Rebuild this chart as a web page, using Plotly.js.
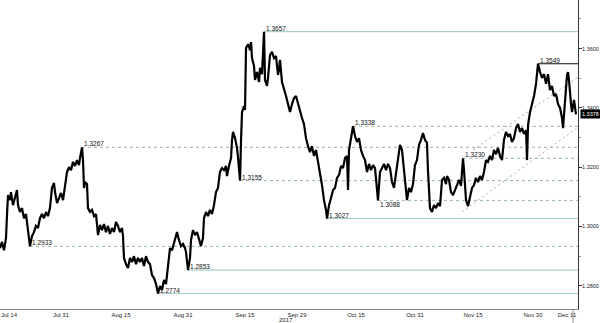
<!DOCTYPE html>
<html>
<head>
<meta charset="utf-8">
<script src="https://cdn.plot.ly/plotly-3.0.1.min.js"></script>
<style>
  html, body { margin: 0; padding: 0; background: #fff; }
  #chart { width: 600px; height: 323px; }
</style>
</head>
<body>
<div id="chart"></div>
<script>
// ---- data (x = trading-day index, 0 = Jul 14 2017) ----
const tradeDay = [
  -1.71,-1.33,-0.95,-0.57,-0.38,-0.19,0.19,0.38,0.76,1.14,
  1.52,1.71,2.09,2.47,2.85,3.23,3.61,3.80,3.99,4.37,
  4.75,5.13,5.51,5.89,6.27,6.65,7.03,7.41,7.79,8.17,
  8.55,8.75,9.13,9.51,9.89,10.27,10.65,11.03,11.41,11.79,
  12.17,12.55,12.93,13.31,13.50,13.88,14.07,14.26,14.45,14.83,
  15.02,15.40,15.78,16.16,16.54,16.92,17.30,17.68,18.06,18.44,
  18.82,19.20,19.58,19.96,20.34,20.72,21.10,21.48,21.67,21.86,
  22.24,22.62,23.00,23.38,23.76,24.14,24.52,24.90,25.28,25.66,
  26.04,26.43,26.81,27.19,27.57,27.95,28.33,28.71,29.09,29.47,
  29.85,30.04,30.23,30.61,30.99,31.37,31.75,31.94,32.32,32.70,
  33.08,33.46,33.65,34.03,34.41,34.60,34.98,35.36,35.74,36.12,
  36.50,36.88,37.07,37.45,37.83,38.21,38.59,38.97,39.35,39.73,
  40.11,40.49,40.87,41.25,41.44,41.82,42.21,42.40,42.59,42.97,
  43.35,43.54,43.73,43.92,44.11,44.30,44.68,44.87,45.06,45.44,
  45.82,46.01,46.20,46.58,46.77,47.15,47.53,47.72,48.10,48.29,
  48.48,48.67,49.05,49.24,49.62,50.00,50.38,50.76,51.14,51.33,
  51.52,51.90,52.28,52.66,53.04,53.42,53.80,54.18,54.56,54.94,
  55.32,55.70,56.08,56.46,56.84,57.22,57.60,57.98,58.36,58.74,
  59.12,59.50,59.88,60.27,60.46,60.84,61.22,61.60,61.98,62.36,
  62.74,63.12,63.50,63.88,64.26,64.45,64.64,65.02,65.40,65.78,
  66.16,66.54,66.92,67.30,67.68,68.06,68.44,68.82,69.20,69.58,
  69.96,70.15,70.53,70.91,71.29,71.67,72.05,72.43,72.81,73.19,
  73.57,73.95,74.33,74.71,75.09,75.47,75.66,76.04,76.42,76.80,
  77.18,77.56,77.94,78.32,78.70,79.08,79.46,79.65,79.84,80.03,
  80.41,80.79,81.18,81.56,81.94,82.32,82.70,83.08,83.27,83.65,
  84.03,84.41,84.79,85.17,85.55,85.93,86.12,86.31,86.50,86.88,
  87.26,87.64,88.02,88.40,88.78,89.16,89.54,89.92,90.30,90.68,
  91.06,91.44,91.82,92.20,92.58,92.96,93.34,93.72,94.10,94.48,
  94.86,95.24,95.62,96.00,96.39,96.77,97.15,97.53,97.91,98.29,
  98.48,98.67,99.05,99.43,99.81,100.19,100.38,100.57,100.95,101.33,
  101.71,102.09,102.47,102.85,103.23,103.61,103.99,104.37,104.75,105.13,
  105.32,105.51,105.89,106.08,106.27,106.46,106.84,107.03,107.41,107.60,
  107.79
];
const price = [
  1.2927,1.2948,1.2920,1.2961,1.3039,1.3106,1.3089,1.3116,1.3072,1.3096,
  1.3123,1.3072,1.3049,1.3062,1.3028,1.3042,1.2995,1.2961,1.2933,1.2968,
  1.2981,1.3002,1.2995,1.3028,1.3042,1.3028,1.3049,1.3035,1.3062,1.3130,
  1.3147,1.3116,1.3079,1.3096,1.3113,1.3089,1.3137,1.3184,1.3200,1.3190,
  1.3218,1.3204,1.3224,1.3207,1.3231,1.3267,1.3224,1.3130,1.3150,1.3143,
  1.3062,1.3049,1.3056,1.3035,1.3042,1.2971,1.3005,1.2988,1.3008,1.2981,
  1.3002,1.2975,1.2995,1.2981,1.3015,1.3002,1.2981,1.2995,1.2968,1.2894,
  1.2873,1.2860,1.2894,1.2880,1.2900,1.2873,1.2894,1.2880,1.2894,1.2867,
  1.2900,1.2880,1.2873,1.2836,1.2826,1.2806,1.2774,1.2799,1.2786,1.2820,
  1.2806,1.2836,1.2880,1.2927,1.2920,1.2948,1.2968,1.2981,1.2954,1.2934,
  1.2941,1.2927,1.2914,1.2853,1.2894,1.2954,1.2988,1.2971,1.2981,1.2961,
  1.2934,1.2961,1.3028,1.3049,1.3035,1.3056,1.3042,1.3072,1.3116,1.3130,
  1.3184,1.3197,1.3190,1.3204,1.3170,1.3204,1.3231,1.3292,1.3319,1.3298,
  1.3265,1.3231,1.3190,1.3155,1.3292,1.3386,1.3406,1.3393,1.3602,1.3615,
  1.3595,1.3622,1.3568,1.3541,1.3494,1.3521,1.3487,1.3535,1.3514,1.3595,
  1.3657,1.3494,1.3474,1.3501,1.3578,1.3589,1.3568,1.3575,1.3511,1.3528,
  1.3562,1.3487,1.3467,1.3440,1.3413,1.3386,1.3413,1.3433,1.3440,1.3413,
  1.3393,1.3366,1.3346,1.3298,1.3271,1.3251,1.3271,1.3238,1.3258,1.3218,
  1.3190,1.3140,1.3089,1.3056,1.3027,1.3072,1.3096,1.3123,1.3130,1.3164,
  1.3174,1.3204,1.3197,1.3231,1.3238,1.3123,1.3258,1.3292,1.3338,1.3305,
  1.3285,1.3298,1.3258,1.3238,1.3224,1.3184,1.3211,1.3190,1.3207,1.3197,
  1.3130,1.3088,1.3184,1.3197,1.3211,1.3190,1.3211,1.3197,1.3150,1.3130,
  1.3184,1.3218,1.3275,1.3258,1.3184,1.3123,1.3089,1.3130,1.3116,1.3143,
  1.3207,1.3224,1.3275,1.3292,1.3315,1.3292,1.3282,1.3190,1.3089,1.3062,
  1.3049,1.3072,1.3062,1.3079,1.3069,1.3157,1.3164,1.3143,1.3170,1.3157,
  1.3116,1.3106,1.3123,1.3143,1.3157,1.3137,1.3207,1.3230,1.3190,1.3089,
  1.3069,1.3096,1.3130,1.3140,1.3164,1.3150,1.3170,1.3157,1.3184,1.3224,
  1.3218,1.3238,1.3224,1.3258,1.3244,1.3265,1.3238,1.3224,1.3292,1.3319,
  1.3305,1.3312,1.3285,1.3298,1.3332,1.3346,1.3319,1.3332,1.3312,1.3325,
  1.3224,1.3342,1.3386,1.3413,1.3440,1.3481,1.3528,1.3549,1.3521,1.3501,
  1.3514,1.3481,1.3514,1.3460,1.3474,1.3440,1.3447,1.3413,1.3400,1.3366,
  1.3332,1.3386,1.3460,1.3511,1.3521,1.3494,1.3413,1.3386,1.3427,1.3393,
  1.3378
];

// horizontal levels (value + trading day where the level was set)
const solidLevels      = [1.3657, 1.3027, 1.2853, 1.2774];
const solidLevelDays   = [48.48, 60.46, 34.03, 28.33];
const dashedLevels     = [1.3338, 1.3267, 1.3230, 1.3155, 1.3088, 1.2933];
const dashedLevelDays  = [65.40, 13.88, 86.31, 43.92, 70.15, 3.99];
const recentHigh       = [1.3549];
const recentHighDay    = [100.57];
const lastPrice        = 1.3378;

// rising channel lines
const channelUpperDays = [88.21, 108.17];
const channelUpperVals = [1.3258, 1.3504];
const channelLowerDays = [86.12, 108.17];
const channelLowerVals = [1.3049, 1.3335];

// x-axis tick labels
const tickDays   = [0, 9.89, 21.29, 33.08, 44.87, 54.75, 65.97, 77.18, 88.21, 99.62, 106.08];
const tickLabels = ['Jul 14','Jul 31','Aug 15','Aug 31','Sep 15','Sep 29','Oct 15','Oct 31','Nov 15','Nov 30','Dec 11'];
const yearLabel  = '2017';
const yearLabelDay = 52.66;
const nowDay = 107.22;

// ---- build ----
const xMin = -1.71, xMax = 108.17;
const FONT = 'Liberation Sans, Arial, sans-serif';
const traces = [];

function levelTrace(v, d, color, dash, width) {
  return { x: [d, xMax], y: [v, v], mode: 'lines', hoverinfo: 'skip',
           line: { color: color, width: width, dash: dash } };
}
solidLevels.forEach((v, i) => traces.push(levelTrace(v, solidLevelDays[i], '#a6d0c8', 'solid', 1.2)));
dashedLevels.forEach((v, i) => traces.push(levelTrace(v, dashedLevelDays[i], '#98b8b2', '3px,3px', 1)));
recentHigh.forEach((v, i) => traces.push(levelTrace(v, recentHighDay[i], '#111', 'solid', 1.1)));

traces.push({ x: channelUpperDays, y: channelUpperVals, mode: 'lines', hoverinfo: 'skip',
              line: { color: '#aaaaaa', width: 1, dash: '2px,3px' } });
traces.push({ x: channelLowerDays, y: channelLowerVals, mode: 'lines', hoverinfo: 'skip',
              line: { color: '#aaaaaa', width: 1, dash: '2px,3px' } });

traces.push({ x: tradeDay, y: price, mode: 'lines', hoverinfo: 'skip',
              line: { color: '#000', width: 2.2 } });

const annotations = [];
function levelLabel(v, d, below) {
  annotations.push({ x: d, y: v, xref: 'x', yref: 'y', text: v.toFixed(4), showarrow: false,
    xanchor: 'left', yanchor: below ? 'top' : 'bottom', yshift: below ? 1 : -2,
    font: { family: FONT, size: 6.5, color: '#111' } });
}
solidLevels.forEach((v, i) => levelLabel(v, solidLevelDays[i], false));
dashedLevels.forEach((v, i) => levelLabel(v, dashedLevelDays[i], v === 1.3088));
recentHigh.forEach((v, i) => levelLabel(v, recentHighDay[i], false));

annotations.push({ x: yearLabelDay, xref: 'x', y: -0.036, yref: 'paper', text: yearLabel,
  showarrow: false, xanchor: 'center', yanchor: 'middle', font: { family: FONT, size: 6, color: '#222' } });

annotations.push({ x: 1, xref: 'paper', y: lastPrice, yref: 'y', text: lastPrice.toFixed(4),
  showarrow: false, xanchor: 'left', yanchor: 'middle', xshift: 2, bgcolor: '#000', borderpad: 1,
  font: { family: FONT, size: 5.5, color: '#fff' } });

const layout = {
  width: 600, height: 323,
  margin: { l: 0, r: 22, t: 0, b: 14, pad: 0 },
  paper_bgcolor: '#fff', plot_bgcolor: '#fff',
  showlegend: false,
  font: { family: FONT, size: 6, color: '#222' },
  xaxis: {
    range: [xMin, xMax], tickmode: 'array', tickvals: tickDays, ticktext: tickLabels,
    showgrid: false, zeroline: false, showline: true, linecolor: '#888', linewidth: 1,
    ticks: '', tickfont: { family: FONT, size: 6, color: '#222' }
  },
  yaxis: {
    side: 'right', range: [1.27218, 1.37639], tick0: 1.28, dtick: 0.02, tickformat: '.4f',
    showgrid: false, zeroline: false, showline: true, linecolor: '#333', linewidth: 1,
    ticks: 'outside', ticklen: 3, tickcolor: '#333', ticklabelstandoff: -1,
    minor: { dtick: 0.01, ticks: 'outside', ticklen: 2, tickcolor: '#999' },
    tickfont: { family: FONT, size: 5.5, color: '#222' }
  },
  shapes: [{ type: 'line', xref: 'x', yref: 'paper', x0: nowDay, x1: nowDay, y0: 0, y1: -0.045,
             line: { color: '#888', width: 1 } }],
  annotations: annotations
};

Plotly.newPlot('chart', traces, layout, { staticPlot: true, displayModeBar: false });
</script>
</body>
</html>
